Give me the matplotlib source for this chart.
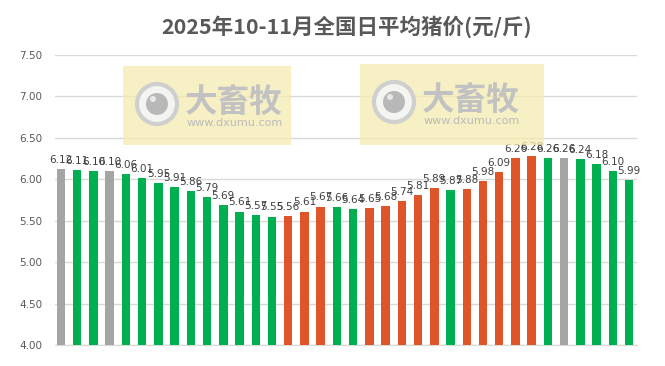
import numpy as np
import matplotlib.pyplot as plt
from matplotlib.patches import Rectangle, Circle

plt.rcParams['font.family'] = ['Noto Sans CJK SC', 'DejaVu Sans']

# 每日均价（元/斤）
prices = [6.12, 6.11, 6.10, 6.10, 6.06, 6.01, 5.95, 5.91, 5.86, 5.79, 5.69, 5.61,
          5.57, 5.55, 5.56, 5.61, 5.67, 5.66, 5.64, 5.65, 5.68, 5.74, 5.81, 5.89,
          5.87, 5.88, 5.98, 6.09, 6.26, 6.28, 6.26, 6.26, 6.24, 6.18, 6.10, 5.99]
# 涨跌: d=跌, u=涨, f=平
trend = ['f', 'd', 'd', 'f', 'd', 'd', 'd', 'd', 'd', 'd', 'd', 'd',
         'd', 'd', 'u', 'u', 'u', 'd', 'd', 'u', 'u', 'u', 'u', 'u',
         'd', 'u', 'u', 'u', 'u', 'u', 'd', 'f', 'd', 'd', 'd', 'd']
yticks = [4.00, 4.50, 5.00, 5.50, 6.00, 6.50, 7.00, 7.50]
title = '2025年10-11月全国日平均猪价(元/斤)'

colors = {'d': '#00B050', 'u': '#E0542A', 'f': '#A5A5A5'}

fig = plt.figure(figsize=(6.65, 3.66), dpi=100)
ax = fig.add_axes([55 / 665, 1 - 345 / 366, 582 / 665, 290 / 366])

x = np.arange(len(prices))
ax.bar(x, np.array(prices) - 4.0, bottom=4.0, width=0.52,
       color=[colors[t] for t in trend], zorder=3)
for xi, v in zip(x, prices):
    ax.text(xi, v + 0.05, '%.2f' % v, ha='center', va='bottom',
            fontsize=7.5, color='#404040', family='DejaVu Sans', zorder=5)

ax.set_xlim(-0.37, 35.49)
ax.set_ylim(4.0, 7.5)
ax.set_yticks(yticks)
ax.set_yticklabels(['%.2f' % t for t in yticks], fontsize=7.5, color='#595959',
                   family='DejaVu Sans')
ax.set_xticks([])
ax.tick_params(axis='y', length=0, pad=9)
ax.grid(axis='y', color='#D9D9D9', linewidth=1, zorder=0)
for s in ['top', 'right', 'left']:
    ax.spines[s].set_visible(False)
ax.spines['bottom'].set_color('#D9D9D9')

# 水印
def watermark(x0, y0, w, h):
    fx, fy = x0 / 665, 1 - (y0 + h) / 366
    fig.patches.append(Rectangle((fx, fy), w / 665, h / 366, transform=fig.transFigure,
                                 facecolor='#F3EBB0', alpha=0.75, edgecolor='none', zorder=1))
    fig.patches.append(Circle((x0 + 34, 366 - (y0 + 38)), 20, transform=None,
                              facecolor='#F4F4F0', edgecolor='#CFCFCF', linewidth=3, zorder=2))
    fig.patches.append(Circle((x0 + 34, 366 - (y0 + 38)), 11, transform=None,
                              facecolor='#B8B8B8', edgecolor='none', zorder=2))
    fig.patches.append(Circle((x0 + 30, 366 - (y0 + 33)), 3, transform=None,
                              facecolor='#E8E8E8', edgecolor='none', zorder=2))
    fig.text((x0 + 111) / 665, 1 - (y0 + 36) / 366, '大畜牧', fontsize=23.5, fontweight='bold',
             color='#C2C2C2', ha='center', va='center', zorder=2)
    fig.text((x0 + 112) / 665, 1 - (y0 + 57) / 366, 'www.dxumu.com', fontsize=8,
             color='#BBBBBB', ha='center', va='center', family='DejaVu Sans', zorder=2)

watermark(123, 66, 168, 79)
watermark(360, 64, 184, 81)

fig.text(347 / 665, 1 - 27 / 366, title, fontsize=15.5, fontweight='bold',
         color='#595959', ha='center', va='center')

fig.savefig('out.png', dpi=100)
